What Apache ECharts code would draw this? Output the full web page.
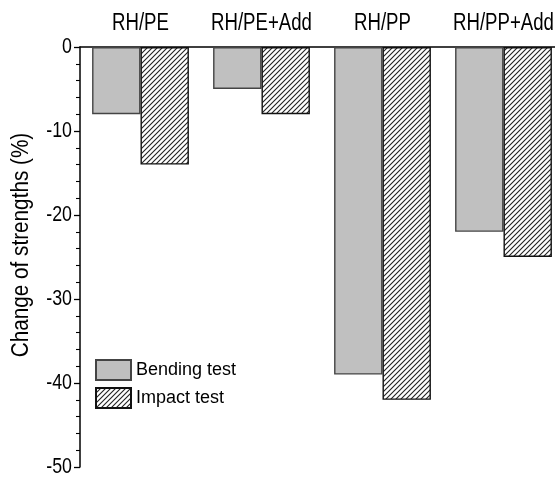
<!DOCTYPE html>
<html>
<head>
  <meta charset="utf-8">
  <title>Chart</title>
  <script src="https://cdn.jsdelivr.net/npm/echarts@6/dist/echarts.min.js"></script>
</head>
<body style="margin:0">
<div id="main" style="width:555px;height:477px"></div>
<script type="text/javascript">
    var categories = ['RH/PE', 'RH/PE+Add', 'RH/PP', 'RH/PP+Add'];
    var bending = [-8, -5, -39, -22];
    var impact = [-14, -8, -42, -25];
    var yTicks = [0, -10, -20, -30, -40, -50];

    // diagonal hatch for the impact bars
    function hatch() {
        var c = document.createElement('canvas');
        c.width = 5; c.height = 5;
        var ctx = c.getContext('2d');
        ctx.fillStyle = '#fff';
        ctx.fillRect(0, 0, 5, 5);
        ctx.strokeStyle = '#222';
        ctx.lineWidth = 1.1;
        ctx.beginPath();
        ctx.moveTo(-1, 6); ctx.lineTo(6, -1);
        ctx.moveTo(-1, 1); ctx.lineTo(1, -1);
        ctx.moveTo(4, 6); ctx.lineTo(6, 4);
        ctx.stroke();
        return c;
    }

    var font = '"Liberation Sans", Arial, sans-serif';
    // the original uses a narrow face; squeeze regular text horizontally
    var squeeze = 0.81;

    var myChart = echarts.init(document.getElementById('main'));
    var option = {
        animation: false,
        grid: { left: 80, top: 47, height: 420, width: 484, outerBoundsMode: 'none', containLabel: false },
        legend: {
            orient: 'vertical',
            left: 90, top: 354,
            icon: 'rect',
            itemWidth: 35, itemHeight: 20, itemGap: 6,
            textStyle: { fontFamily: font, fontSize: 18, color: '#000', lineHeight: 20 },
            data: ['Bending test', 'Impact test']
        },
        xAxis: {
            type: 'category',
            position: 'top',
            data: categories,
            axisLine: { lineStyle: { color: '#000', width: 1.5 } },
            axisTick: { show: false },
            axisLabel: { show: false }
        },
        yAxis: {
            type: 'value',
            min: -50, max: 0, interval: 10,
            axisLine: { show: true, lineStyle: { color: '#000', width: 1.5 } },
            axisTick: { show: true, length: 6, lineStyle: { color: '#000', width: 1.3 } },
            minorTick: { show: true, splitNumber: 5, length: 4, lineStyle: { color: '#000', width: 1.1 } },
            splitLine: { show: false },
            axisLabel: { show: false }
        },
        series: [{
            name: 'Bending test',
            type: 'bar',
            data: bending,
            barGap: '0%',
            barCategoryGap: '20%',
            itemStyle: { color: '#c0c0c0', borderColor: '#444', borderWidth: 1.4 }
        }, {
            name: 'Impact test',
            type: 'bar',
            data: impact,
            itemStyle: { color: { image: hatch(), repeat: 'repeat' }, borderColor: '#111', borderWidth: 1.4 }
        }]
    };
    myChart.setOption(option);

    // labels placed through the axes' own scales, drawn narrow
    var labels = [];
    var top0 = myChart.convertToPixel({ yAxisIndex: 0 }, 0);
    categories.forEach(function (c) {
        labels.push({
            type: 'text',
            x: myChart.convertToPixel({ xAxisIndex: 0 }, c),
            y: top0 - 23,
            scaleX: squeeze,
            style: { text: c, font: '23px ' + font, fill: '#000', textAlign: 'center', textVerticalAlign: 'middle' }
        });
    });
    yTicks.forEach(function (v) {
        labels.push({
            type: 'text',
            x: 72,
            y: myChart.convertToPixel({ yAxisIndex: 0 }, v),
            scaleX: squeeze,
            style: { text: String(v), font: '22px ' + font, fill: '#000', textAlign: 'right', textVerticalAlign: 'middle' }
        });
    });
    labels.push({
        type: 'text',
        x: 22,
        y: 245,
        rotation: Math.PI / 2,
        scaleX: 0.9,
        style: { text: 'Change of strengths (%)', font: '23px ' + font, fill: '#000', textAlign: 'center', textVerticalAlign: 'middle' }
    });
    myChart.setOption({ graphic: labels });
</script>
</body>
</html>
